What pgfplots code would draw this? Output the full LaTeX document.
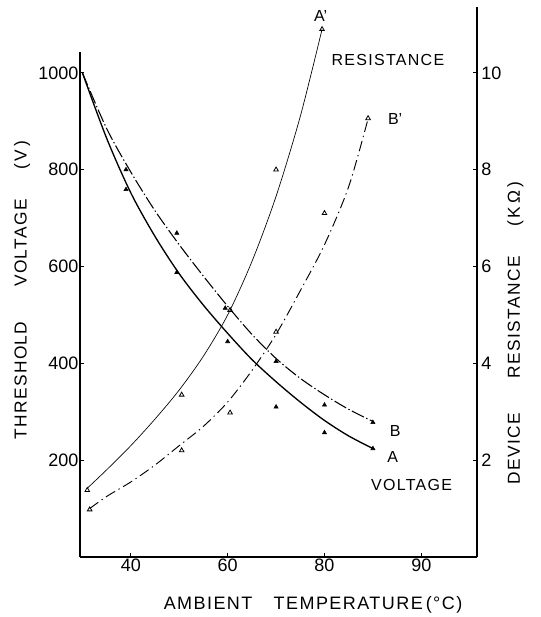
\documentclass[border=0pt]{standalone}
\usepackage{fontspec}
\setmainfont{Liberation Sans}
\newfontfamily\lbl[LetterSpace=8]{Liberation Sans}
\usepackage{pgfplots}
\pgfplotsset{compat=1.18}

\begin{document}
\begin{tikzpicture}
\path[use as bounding box] (-60pt,-45pt) rectangle (345pt,417.75pt);

% voltage (left axis)
\begin{axis}[
    at={(0,0)}, anchor=south west,
    scale only axis, width=297.75pt, height=412.5pt,
    xmin=29.5, xmax=111.5, ymin=0, ymax=1136,
    axis x line*=bottom, axis y line*=left,
    y axis line style={draw=none},
    x axis line style={line width=1.5pt},
    xtick={40,60,80,100}, xticklabels={40,60,80,90},
    ytick={200,400,600,800,1000},
    tick align=inside, major tick length=3pt,
    tick style={line width=0.8pt, black},
    ticklabel style={font=\fontsize{13.5}{14}\selectfont},
    /pgf/number format/assume math mode=true,
    /pgf/number format/1000 sep={},
    yticklabel style={inner sep=1pt},
    xticklabel style={inner sep=1pt},
    xlabel={\lbl AMBIENT\hspace{16pt}TEMPERATURE\,(°C)},
    xlabel style={at={(axis description cs:0.587,0)}, anchor=center, yshift=-36pt,
        font=\fontsize{13.5}{14}\selectfont},
    ylabel={\lbl THRESHOLD\hspace{26pt}VOLTAGE\hspace{22pt}(\,V\,)},
    ylabel style={at={(axis description cs:-0.146,0.485)}, anchor=center,
        font=\fontsize{13}{14}\selectfont},
    clip=false,
]
\draw[line width=1.5pt] (axis cs:29.5,0) -- (axis cs:29.5,1044);

% A : solid fitted curve
\addplot[black, line width=1pt, smooth] coordinates {
    (30,1000) (35,865) (40,752) (45,662) (50,585) (55,520) (60,462)
    (65,408) (70,362) (75,320) (80,282) (85,250) (90,224)};
% B : dash-dot fitted curve
\addplot[black, line width=0.8pt, smooth, dash pattern=on 10pt off 2pt on 1pt off 2pt] coordinates {
    (30,1000) (35,885) (40,795) (45,715) (50,645) (55,580) (60,518)
    (65,460) (70,410) (75,369) (80,335) (85,305) (90,280)};

% measured points
\addplot[only marks, mark=triangle*, mark size=1.8pt, black] coordinates {
    (39,759) (49.5,588) (60,445) (70,310) (80,257) (90,224)};
\addplot[only marks, mark=triangle*, mark size=1.8pt, black] coordinates {
    (39,800) (49.5,669) (59.5,514) (70,404) (80,314) (90,278)};

\begin{scope}[font=\fontsize{12}{14}\selectfont]
\node at (axis cs:79.2,1118) {A'};
\node[anchor=west, font=\lbl\fontsize{12}{14}\selectfont] at (axis cs:80.5,1027) {RESISTANCE};
\node at (axis cs:94.6,905) {B'};
\node at (axis cs:94.6,260) {B};
\node at (axis cs:94.1,206) {A};
\node[font=\lbl\fontsize{12}{14}\selectfont] at (axis cs:98,149) {VOLTAGE};
\end{scope}
\end{axis}

% resistance (right axis)
\begin{axis}[
    at={(0,0)}, anchor=south west,
    scale only axis, width=297.75pt, height=412.5pt,
    xmin=29.5, xmax=111.5, ymin=0, ymax=11.36,
    axis x line=none, axis y line*=right,
    y axis line style={line width=1.5pt},
    ytick={2,4,6,8,10},
    tick align=inside, major tick length=3pt,
    tick style={line width=0.8pt, black},
    ticklabel style={font=\fontsize{13.5}{14}\selectfont},
    /pgf/number format/assume math mode=true,
    yticklabel style={inner sep=1pt, xshift=2pt},
    ylabel={\lbl DEVICE\hspace{26pt}RESISTANCE\hspace{22pt}(\,K\,Ω\,)},
    ylabel style={at={(axis description cs:1.097,0.407)}, anchor=center,
        font=\fontsize{13}{14}\selectfont},
    clip=false,
]
% A' : thin solid fitted curve
\addplot[black, line width=0.5pt, smooth] coordinates {
    (31,1.42) (35,1.8) (40,2.3) (45,2.85) (50,3.45) (55,4.15) (60,5.0)
    (65,6.1) (70,7.45) (75,9.1) (79.5,10.9)};
% B' : long dash-dot fitted curve
\addplot[black, line width=0.7pt, smooth, dash pattern=on 8pt off 3pt on 1pt off 3pt] coordinates {
    (31.5,1.0) (35,1.25) (40,1.55) (45,1.9) (50,2.3) (55,2.7) (60,3.2)
    (65,3.85) (70,4.6) (75,5.5) (80,6.45) (85,7.65) (89,9.05)};

\addplot[only marks, mark=triangle, mark size=2pt, black, mark options={line width=0.6pt}] coordinates {
    (31,1.38) (50.5,3.35) (60.5,5.1) (70,8.0) (79.5,10.9)};
\addplot[only marks, mark=triangle, mark size=2pt, black, mark options={line width=0.6pt}] coordinates {
    (31.5,0.98) (50.5,2.2) (60.5,2.98) (70,4.65) (80,7.1) (89,9.06)};
\end{axis}
\end{tikzpicture}
\end{document}
